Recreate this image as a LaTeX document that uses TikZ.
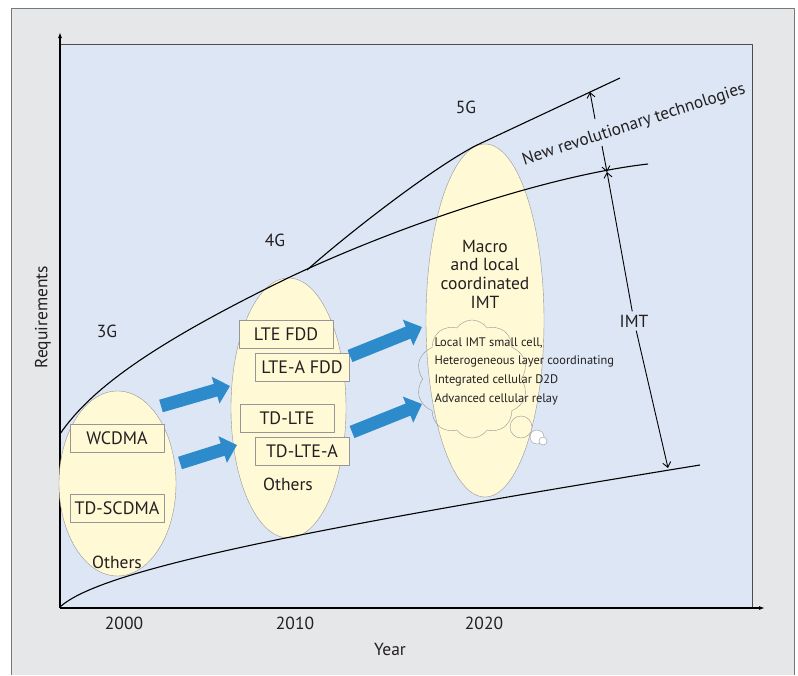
\documentclass[tikz,border=0pt]{standalone}
\usepackage{fontspec}
\setmainfont{PT Sans}
\usetikzlibrary{shapes.geometric,shapes.symbols,arrows.meta}

\definecolor{framegray}{RGB}{230,231,232}
\definecolor{plotblue}{RGB}{220,230,244}
\definecolor{ovalyellow}{RGB}{255,249,214}
\definecolor{arrowblue}{RGB}{45,139,204}
\definecolor{edgegray}{RGB}{150,150,150}
\definecolor{inkgray}{RGB}{35,31,32}

\begin{document}
\begin{tikzpicture}[x=1pt,y=-1pt,line join=bevel,
  oval/.style={ellipse,draw=edgegray,fill=ovalyellow,inner sep=0pt},
  techbox/.style={draw=edgegray,fill=ovalyellow,minimum width=94pt,minimum height=28pt,inner sep=0pt,text=inkgray,font=\fontsize{18}{20}\selectfont},
  tag/.style={text=inkgray,font=\fontsize{17.5}{20}\selectfont},
  fatarrow/.style={arrowblue,line width=13pt,-{Triangle[width=27pt,length=15pt]}},
  curve/.style={line width=1.1pt},
  dimarrow/.style={line width=0.9pt,-{Straight Barb[length=5pt,width=8pt]}}]
\useasboundingbox (0,0) rectangle (798,675);
%%
  % Frame and plot area
  \fill[framegray] (11,8) rectangle (794,675);
  \draw[edgegray!80!black,line width=1pt] (11,675) -- (11,8) -- (794,8) -- (794,675);
  \fill[plotblue] (60,44) rectangle (752,608);
  \draw[black!70,line width=1pt] (60,44) -- (752,44) -- (752,608);
  \coordinate (origin) at (60,608);
  \coordinate (ytip) at (60,32);
  \coordinate (xtip) at (765,608);
  \draw[line width=1.3pt,-{Latex[length=6pt,width=4pt]}] (origin) -- (ytip);
  \draw[line width=1.3pt,-{Latex[length=6pt,width=4pt]}] (origin) -- (xtip);
  % Node: axis texts
  \node[tag,rotate=90] (req) at (43,317) {Requirements};
  \node[tag] (year) at (390,649) {Year};
  \node[tag] (y2000) at (124,623) {2000};
  \node[tag] (y2010) at (295,623) {2010};
  \node[tag] (y2020) at (484,623) {2020};
  % Node: generations
  \node[oval,minimum width=117pt,minimum height=185pt] (g3) at (117.5,483.5) {};
  \node[oval,minimum width=115pt,minimum height=260pt] (g4) at (288.5,408) {};
  \node[oval,minimum width=118pt,minimum height=353pt] (g5) at (485,320.5) {};
  \node[tag] (lab3g) at (107,331) {3G};
  \node[tag] (lab4g) at (275,240) {4G};
  \node[tag] (lab5g) at (466,107) {5G};
  % Edge: requirement curves
  \draw[curve] (60,607) .. controls (100,570) and (300,530) .. (700,465);
  \draw[curve] (60,434) .. controls (90,390) and (150,345) .. (290,277) .. controls (400,225) and (550,175) .. (648,164);
  \draw[curve] (307,270) .. controls (350,232) and (430,170) .. (475,146) -- (620,78);
  % Node: 3G
  \node[techbox] (wcdma) at (117,438) {WCDMA};
  \node[techbox] (tdscdma) at (117,508) {TD-SCDMA};
  \node[tag] (others3) at (117,562) {Others};
  % Node: 4G
  \node[techbox] (ltefdd) at (286,334) {LTE FDD};
  \node[techbox] (lteafdd) at (302,367) {LTE-A FDD};
  \node[techbox] (tdlte) at (287,418.5) {TD-LTE};
  \node[techbox] (tdltea) at (302,451) {TD-LTE-A};
  \node[tag] (others4) at (288,484) {Others};
  % Node: 5G
  \node[tag,align=center,font=\fontsize{17.5}{18.6}\selectfont] (macro) at (485,274) {Macro\\and local\\coordinated\\IMT};
  \node[cloud,draw=edgegray,cloud puffs=10,cloud puff arc=110,aspect=0.94,minimum width=111pt,minimum height=118pt,inner sep=0pt] (cloud) at (472,379) {};
  \node[circle,draw=edgegray,fill=ovalyellow,minimum size=22pt,inner sep=0pt] (bubblea) at (521,427) {};
  \node[circle,draw=edgegray,fill=white,minimum size=14pt,inner sep=0pt] (bubbleb) at (537,437) {};
  \node[circle,draw=edgegray,fill=white,minimum size=8pt,inner sep=0pt] (bubblec) at (543,441) {};
  \node[text=inkgray,align=left,anchor=west,font=\fontsize{12.4}{18.7}\selectfont] (ideas) at (431,371) {Local IMT small cell,\\Heterogeneous layer coordinating\\Integrated cellular D2D\\Advanced cellular relay};
  % Edge: migration arrows
  \coordinate (mig1s) at (161,406);
  \coordinate (mig1e) at (230,386);
  \coordinate (mig2s) at (180,463);
  \coordinate (mig2e) at (237,445);
  \coordinate (mig3s) at (350,356);
  \coordinate (mig3e) at (422,327);
  \coordinate (mig4s) at (352,432);
  \coordinate (mig4e) at (422,404);
  \draw[fatarrow] (mig1s) -- (mig1e);
  \draw[fatarrow] (mig2s) -- (mig2e);
  \draw[fatarrow] (mig3s) -- (mig3e);
  \draw[fatarrow] (mig4s) -- (mig4e);
  % Edge: gaps
  \coordinate (nrttop) at (590,92);
  \coordinate (nrtup) at (595,119);
  \coordinate (nrtdown) at (602,146);
  \coordinate (nrtbot) at (607,172);
  \coordinate (imtbot) at (668,468);
  \node[text=inkgray,rotate=18,font=\fontsize{17.2}{19}\selectfont] (nrt) at (634,125) {New revolutionary technologies};
  \node[tag] (imt) at (634,321) {IMT};
  \draw[dimarrow] (nrtup) -- (nrttop);
  \draw[dimarrow] (nrtdown) -- (nrtbot);
  \draw[dimarrow] (imt) -- (nrtbot);
  \draw[dimarrow] (imt) -- (imtbot);
%
\end{tikzpicture}
\end{document}
